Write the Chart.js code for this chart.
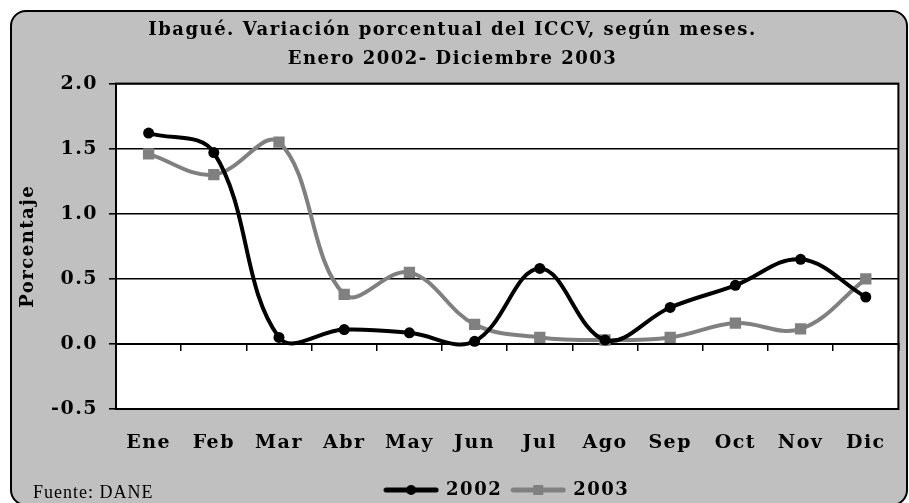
<!DOCTYPE html>
<html lang="es">
<head>
<meta charset="utf-8">
<title>ICCV Ibagué</title>
<script src="https://cdn.jsdelivr.net/npm/chart.js@4.4.1/dist/chart.umd.min.js"></script>
<style>
  html, body { margin: 0; padding: 0; background: #fff; }
  #frame {
    position: absolute; left: 10px; top: 10px;
    width: 898px; height: 496px; box-sizing: border-box;
    background: #c0c0c0; border: 2px solid #000; border-radius: 16px;
  }
  #box { position: absolute; left: 0; top: 0; width: 909px; height: 503px; }
  #fuente {
    position: absolute; left: 33px; top: 483px; line-height: 18px;
    font-family: "Liberation Serif", serif; font-size: 18px; letter-spacing: 1px; color: #000;
  }
</style>
</head>
<body>
<div id="frame"></div>
<div id="box"><canvas id="myChart"></canvas></div>
<div id="fuente">Fuente: DANE</div>
<script>
const meses = ['Ene', 'Feb', 'Mar', 'Abr', 'May', 'Jun', 'Jul', 'Ago', 'Sep', 'Oct', 'Nov', 'Dic'];
const serie2002 = [1.62, 1.47, 0.05, 0.11, 0.085, 0.02, 0.58, 0.03, 0.28, 0.45, 0.65, 0.36];
const serie2003 = [1.46, 1.30, 1.55, 0.38, 0.55, 0.15, 0.05, 0.03, 0.05, 0.16, 0.115, 0.50];
const years = ['2002', '2003'];
const yTicks = [-0.5, 0.0, 0.5, 1.0, 1.5, 2.0];

const serif = '"DejaVu Serif", serif';
const negro = '#000000';
const gris = '#808080';

// little line+marker icons for the legend
function legendIcon(color, square) {
    const c = document.createElement('canvas');
    c.width = 56; c.height = 12;
    const g = c.getContext('2d');
    g.strokeStyle = color; g.lineWidth = 5; g.lineCap = 'round';
    g.beginPath(); g.moveTo(3, 6); g.lineTo(53, 6); g.stroke();
    g.fillStyle = color;
    if (square) {
        g.fillRect(23, 1, 10, 10);
    } else {
        g.beginPath(); g.arc(28, 6, 5, 0, Math.PI * 2); g.fill();
    }
    return c;
}
const icons = [legendIcon(negro, false), legendIcon(gris, true)];

// canvas text in the old sheet is slightly spaced out
const spacing = {
    id: 'spacing',
    beforeLayout(chart) { chart.ctx.letterSpacing = '1.5px'; },
    beforeDraw(chart) { chart.ctx.letterSpacing = '1.5px'; }
};

// white plot area and its black frame
const plotFrame = {
    id: 'plotFrame',
    beforeDraw(chart) {
        const {ctx, chartArea: a} = chart;
        ctx.save();
        ctx.fillStyle = '#ffffff';
        ctx.fillRect(a.left, a.top, a.right - a.left, a.bottom - a.top);
        ctx.restore();
    },
    beforeDatasetsDraw(chart) {
        const {ctx, chartArea: a} = chart;
        ctx.save();
        ctx.strokeStyle = negro;
        ctx.lineWidth = 2;
        ctx.strokeRect(a.left, a.top, a.right - a.left, a.bottom - a.top);
        ctx.restore();
    }
};

const config = {
    type: 'line',
    data: {
        labels: meses,
        datasets: [
            {
                label: years[0],
                data: serie2002,
                borderColor: negro,
                backgroundColor: negro,
                borderWidth: 4,
                tension: 0.38,
                pointStyle: 'circle',
                pointRadius: 5.5,
                pointBorderWidth: 0,
                pointBackgroundColor: negro
            },
            {
                label: years[1],
                data: serie2003,
                borderColor: gris,
                backgroundColor: gris,
                borderWidth: 4,
                tension: 0.38,
                pointStyle: 'rect',
                pointRadius: 8,
                pointBorderWidth: 0,
                pointBackgroundColor: gris
            }
        ]
    },
    options: {
        responsive: true,
        maintainAspectRatio: false,
        animation: false,
        layout: { padding: { left: 0, right: 4, top: 0, bottom: -6 } },
        scales: {
            x: {
                type: 'category',
                offset: true,
                grid: { display: false, drawTicks: false },
                border: { display: false },
                ticks: {
                    color: negro,
                    padding: 23,
                    maxRotation: 0,
                    font: { family: serif, size: 19, weight: 'bold' }
                },
                afterFit(s) { s.height = 62; }
            },
            xCero: {
                type: 'category',
                position: { y: 0 },
                offset: true,
                grid: { offset: true, drawOnChartArea: false, drawTicks: true, tickLength: 6, color: negro, lineWidth: 1.5 },
                border: { display: true, color: negro, width: 2 },
                ticks: { display: false }
            },
            y: {
                min: -0.5,
                max: 2.0,
                afterBuildTicks(s) { s.ticks = yTicks.map(v => ({ value: v })); },
                grid: { color: negro, lineWidth: 1.6, drawTicks: true, tickLength: 7 },
                border: { display: true, color: negro, width: 2 },
                ticks: {
                    color: negro,
                    padding: 11,
                    font: { family: serif, size: 19, weight: 'bold' },
                    callback: v => v.toFixed(1)
                },
                title: {
                    display: true,
                    text: 'Porcentaje',
                    color: negro,
                    padding: { top: 18, bottom: 0 },
                    font: { family: serif, size: 18, weight: 'bold' }
                },
                afterFit(s) { s.width = 116; }
            }
        },
        plugins: {
            title: {
                display: true,
                text: ['Ibagué. Variación porcentual del ICCV, según meses.', 'Enero 2002- Diciembre 2003'],
                color: negro,
                font: { family: serif, size: 18, weight: 'bold', lineHeight: 1.6 },
                padding: { top: 16, bottom: 10 }
            },
            legend: {
                position: 'bottom',
                fullSize: false,
                labels: {
                    color: negro,
                    usePointStyle: true,
                    pointStyleWidth: 52,
                    padding: 10,
                    font: { family: serif, size: 18, weight: 'bold' },
                    generateLabels(chart) {
                        const items = Chart.defaults.plugins.legend.labels.generateLabels(chart);
                        items.forEach((it, i) => { it.pointStyle = icons[i]; });
                        return items;
                    }
                }
            },
            tooltip: { enabled: false }
        }
    },
    plugins: [spacing, plotFrame]
};

var myChart = new Chart(document.getElementById('myChart'), config);
</script>
</body>
</html>
